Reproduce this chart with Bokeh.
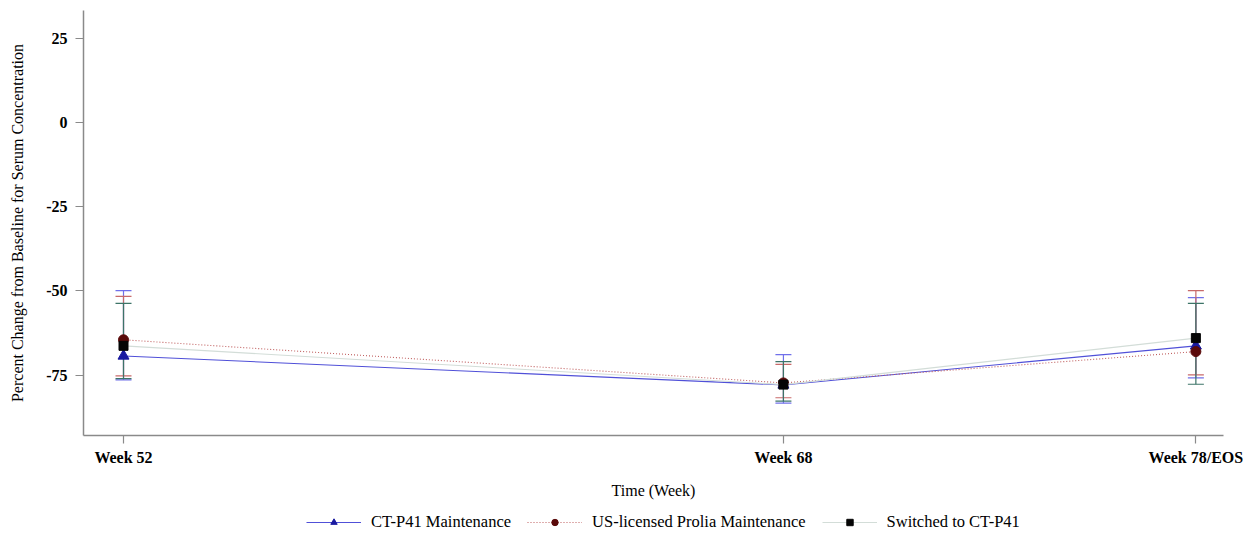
from bokeh.plotting import figure
from bokeh.layouts import column
from bokeh.models import (ColumnDataSource, Range1d, FixedTicker, Whisker, TeeHead,
                          Legend, LegendItem)
from bokeh.embed import file_html
from bokeh.resources import INLINE

# Visit timepoints (weeks) and their axis labels
weeks = [52, 68, 78]
week_labels = ["Week 52", "Week 68", "Week 78/EOS"]

# Mean percent change from baseline with error-bar limits, per treatment group
ctp41_mean = [-69.3, -77.9, -66.3]
ctp41_upper = [-49.9, -68.9, -52.0]
ctp41_lower = [-76.4, -83.3, -75.8]

prolia_mean = [-64.5, -77.3, -68.0]
prolia_upper = [-51.6, -71.8, -49.9]
prolia_lower = [-75.2, -81.7, -74.9]

switched_mean = [-66.3, -77.8, -64.0]
switched_upper = [-53.7, -71.0, -53.7]
switched_lower = [-76.0, -82.7, -77.7]

y_ticks = [-75, -50, -25, 0, 25]
y_tick_labels = ["-75", "-50", "-25", "0", "25"]

SERIF = "Liberation Serif"
AXIS_GRAY = "#8a8a8a"

p = figure(width=1243, height=510, output_backend="svg", toolbar_location=None,
           x_range=Range1d(51.03, 78.67), y_range=Range1d(-92.9, 33.2),
           min_border_left=83, min_border_right=20, min_border_top=10,
           min_border_bottom=75)
p.outline_line_color = None
p.xgrid.visible = False
p.ygrid.visible = False

for ax in (p.xaxis[0], p.yaxis[0]):
    ax.axis_line_color = AXIS_GRAY
    ax.axis_line_width = 1.5
    ax.major_tick_line_color = AXIS_GRAY
    ax.major_tick_line_width = 1.2
    ax.major_tick_out = 8
    ax.major_tick_in = 0
    ax.minor_tick_line_color = None
    ax.major_label_text_font = SERIF
    ax.major_label_text_font_size = "16px"
    ax.major_label_text_font_style = "bold"
    ax.major_label_text_color = "black"
    ax.axis_label_text_font = SERIF
    ax.axis_label_text_font_size = "16px"
    ax.axis_label_text_font_style = "normal"
    ax.axis_label_text_color = "black"

p.xaxis.ticker = FixedTicker(ticks=weeks)
p.xaxis.major_label_overrides = {w: lab for w, lab in zip(weeks, week_labels)}
p.xaxis.major_label_standoff = 5
p.xaxis.axis_label = "Time (Week)"
p.xaxis.axis_label_standoff = 13

p.yaxis.ticker = FixedTicker(ticks=y_ticks)
p.yaxis.major_label_overrides = {t: lab for t, lab in zip(y_ticks, y_tick_labels)}
p.yaxis.major_label_standoff = 8
p.yaxis.axis_label = "Percent Change from Baseline for Serum Concentration"
p.yaxis.axis_label_standoff = 17

groups = [
    dict(name="CT-P41 Maintenance", mean=ctp41_mean, upper=ctp41_upper, lower=ctp41_lower,
         line="#5050d8", dash="solid", bar="#7070ea", marker="triangle",
         mcolor="#1a1aa0", msize=11),
    dict(name="US-licensed Prolia Maintenance", mean=prolia_mean, upper=prolia_upper,
         lower=prolia_lower, line="#c06060", dash="1 2", bar="#c86a6a", marker="circle",
         mcolor="#5a0a0a", msize=10),
    dict(name="Switched to CT-P41", mean=switched_mean, upper=switched_upper,
         lower=switched_lower, line="#d3ddd8", dash="solid", bar="#3d7468", marker="square",
         mcolor="#050505", msize=9),
]

# error bars first, so the connecting lines and markers sit on top
for g in groups:
    src = ColumnDataSource(dict(x=weeks, upper=g["upper"], lower=g["lower"]))
    w = Whisker(source=src, base="x", upper="upper", lower="lower",
                line_color=g["bar"], line_width=1.2,
                upper_head=TeeHead(size=16, line_color=g["bar"], line_width=1.2),
                lower_head=TeeHead(size=16, line_color=g["bar"], line_width=1.2))
    p.add_layout(w)

for g in groups:
    src = ColumnDataSource(dict(x=weeks, y=g["mean"]))
    p.line("x", "y", source=src, line_color=g["line"], line_width=1.1, line_dash=g["dash"])
    p.scatter("x", "y", source=src, marker=g["marker"], size=g["msize"],
              fill_color=g["mcolor"], line_color=g["mcolor"])

# legend strip under the chart: same series styles, its own small canvas
leg = figure(width=1243, height=23, output_backend="svg", toolbar_location=None,
             x_axis_type=None, y_axis_type=None,
             x_range=Range1d(0, 1), y_range=Range1d(0, 1),
             min_border=0)
leg.outline_line_color = None
leg.xgrid.visible = False
leg.ygrid.visible = False

items = []
for g in groups:
    src = ColumnDataSource(dict(x=weeks, y=g["mean"]))
    ln = leg.line("x", "y", source=src, line_color=g["line"], line_width=1.1,
                  line_dash=g["dash"])
    sc = leg.scatter("x", "y", source=src, marker=g["marker"], size=g["msize"] - 1,
                     fill_color=g["mcolor"], line_color=g["mcolor"])
    items.append(LegendItem(label=g["name"], renderers=[ln, sc]))

legend = Legend(items=items, orientation="horizontal", location=(223, 1),
                label_text_font=SERIF, label_text_font_size="16.5px",
                label_text_color="black",
                glyph_width=55, glyph_height=16, label_standoff=10, spacing=16,
                padding=0, margin=0, border_line_color=None,
                background_fill_alpha=0)
leg.add_layout(legend, "center")

layout = column(p, leg, spacing=0)
open("out.html", "w").write(file_html(layout, INLINE))
